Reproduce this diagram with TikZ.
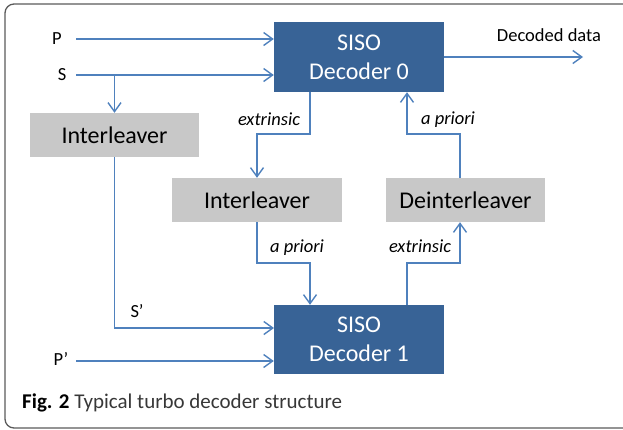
\documentclass[tikz,border=0pt]{standalone}
\usepackage{fontspec}
\setmainfont{Carlito}
\usetikzlibrary{arrows.meta}
\definecolor{decblue}{RGB}{56,99,150}
\definecolor{boxgray}{RGB}{200,200,200}
\definecolor{linkblue}{RGB}{79,129,189}
\definecolor{framegray}{RGB}{90,90,90}
\definecolor{capgray}{RGB}{55,55,55}
\begin{document}
\begin{tikzpicture}[x=1pt,y=-1pt,
  decbox/.style={fill=decblue, text=white, inner sep=0pt, minimum width=170pt, minimum height=70pt, align=center, font=\fontsize{24}{29}\selectfont},
  graybox/.style={fill=boxgray, inner sep=0pt, minimum height=44pt, font=\fontsize{24}{29}\selectfont},
  lbl/.style={inner sep=0pt, font=\fontsize{18.5}{22}\selectfont, anchor=base},
  ilbl/.style={inner sep=0pt, font=\fontsize{18.5}{22}\selectfont\itshape, anchor=base},
  arr/.style={draw=linkblue, line width=1.4pt, -{Straight Barb[length=9pt,width=13pt]}}]
\useasboundingbox (0,0) rectangle (623,429);
\draw[framegray, line width=1.3pt, rounded corners=9pt] (5,4) rectangle (660,428);

% boxes
\node[decbox] (dec0) at (359,57) {SISO\\Decoder 0};
\node[decbox, minimum height=69pt] (dec1) at (359,339.5) {SISO\\Decoder 1};
\node[graybox, minimum width=169pt] (il1) at (114.5,135) {Interleaver};
\node[graybox, minimum width=170pt] (il2) at (257,200) {Interleaver};
\node[graybox, minimum width=159pt] (deil) at (465.5,200) {Deinterleaver};

% labels
\node[lbl] (P) at (57,44) {P};
\node[lbl] (S) at (62,80) {S};
\node[lbl] (Sp) at (137,317) {S’};
\node[lbl] (Pp) at (61,365) {P’};
\node[lbl] (dd) at (549,41) {Decoded data};
\node[ilbl] (ex0) at (269,125) {extrinsic};
\node[ilbl] (ap0) at (448,124) {a priori};
\node[ilbl] (ap1) at (297,252) {a priori};
\node[ilbl] (ex1) at (420,252) {extrinsic};

% connector points
\coordinate (pin) at (76,39);
\coordinate (sin) at (76,75);
\coordinate (spin) at (274,328);
\coordinate (ppin) at (76,361);
\coordinate (dout) at (583,57);
\coordinate (e0a) at (310,134);
\coordinate (e0b) at (257,134);
\coordinate (a1a) at (257,263);
\coordinate (a1b) at (310,263);
\coordinate (e1a) at (407,263);
\coordinate (e1b) at (460,263);
\coordinate (a0a) at (460,134);
\coordinate (a0b) at (407,134);

% connectors
\draw[arr] (pin) -- (pin -| dec0.west);
\draw[arr] (sin) -- (sin -| dec0.west);
\draw[arr] (sin -| il1.north) -- (il1.north);
\draw[arr] (il1.south) |- (spin);
\draw[arr] (ppin) -- (ppin -| dec1.west);
\draw[arr] (dec0.east) -- (dout);
\draw[arr] (dec0.south -| e0a) -- (e0a) -- (e0b) -- (il2.north);
\draw[arr] (il2.south) -- (a1a) -- (a1b) -- (a1b |- dec1.north);
\draw[arr] (dec1.north -| e1a) -- (e1a) -- (e1b) -- (e1b |- deil.south);
\draw[arr] (deil.north -| a0a) -- (a0a) -- (a0b) -- (a0b |- dec0.south);

% caption
\node[anchor=base west, inner sep=0pt, font=\fontsize{21}{25}\selectfont] (cap) at (22,408) {\textbf{Fig. 2} {\color{capgray}Typical turbo decoder structure}};
\end{tikzpicture}
\end{document}
